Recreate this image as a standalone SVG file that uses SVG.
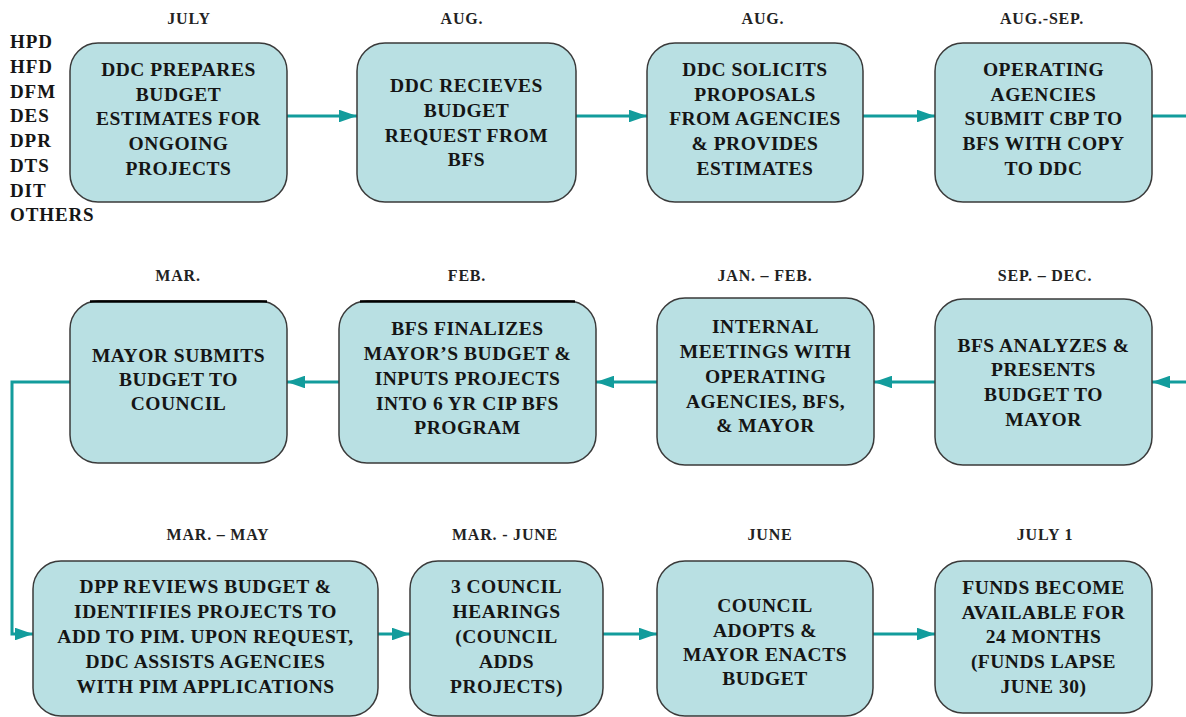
<svg xmlns="http://www.w3.org/2000/svg" width="1186" height="717" viewBox="0 0 1186 717">
  <style>
    .box { fill: #b9e0e3; stroke: #3a3a3a; stroke-width: 1.5; }
    .edge { stroke: #000; stroke-width: 2.5; }
    .t { font-family: "Liberation Serif", "Times New Roman", serif; font-weight: bold; font-size: 19.5px; fill: #151515; text-anchor: middle; letter-spacing: 0.5px; }
    .d { font-family: "Liberation Serif", "Times New Roman", serif; font-weight: bold; font-size: 16px; fill: #222; text-anchor: middle; letter-spacing: 0.8px; }
    .org { font-family: "Liberation Serif", "Times New Roman", serif; font-weight: bold; font-size: 19px; fill: #151515; letter-spacing: 0.9px; }
    .c { fill: none; stroke: #129c9c; stroke-width: 3; }
  </style>
  <defs>
    <marker id="ah" markerWidth="6" markerHeight="4.2" refX="6" refY="2.1" orient="auto" markerUnits="strokeWidth">
      <path d="M0,0 L6,2.1 L0,4.2 z" fill="#129c9c"/>
    </marker>
  </defs>
  <rect width="1186" height="717" fill="#fff"/>

  <!-- participating agencies -->
  <g id="agencies" class="org">
    <text x="10" y="48">HPD</text>
    <text x="10" y="73">HFD</text>
    <text x="10" y="98">DFM</text>
    <text x="10" y="122">DES</text>
    <text x="10" y="147">DPR</text>
    <text x="10" y="172">DTS</text>
    <text x="10" y="197">DIT</text>
    <text x="10" y="221">OTHERS</text>
  </g>

  <!-- connectors -->
  <g id="connectors">
    <line class="c" x1="287" y1="116" x2="357" y2="116" marker-end="url(#ah)"/>
    <line class="c" x1="576" y1="116" x2="647" y2="116" marker-end="url(#ah)"/>
    <line class="c" x1="863" y1="116" x2="935" y2="116" marker-end="url(#ah)"/>
    <line class="c" x1="1152" y1="116" x2="1186" y2="116"/>
    <line class="c" x1="1186" y1="382" x2="1152" y2="382" marker-end="url(#ah)"/>
    <line class="c" x1="935" y1="382" x2="874" y2="382" marker-end="url(#ah)"/>
    <line class="c" x1="657" y1="382" x2="596" y2="382" marker-end="url(#ah)"/>
    <line class="c" x1="339" y1="382" x2="287" y2="382" marker-end="url(#ah)"/>
    <polyline class="c" points="70,382 12,382 12,634 33,634" marker-end="url(#ah)"/>
    <line class="c" x1="378" y1="634" x2="410" y2="634" marker-end="url(#ah)"/>
    <line class="c" x1="603" y1="634" x2="657" y2="634" marker-end="url(#ah)"/>
    <line class="c" x1="873" y1="634" x2="935" y2="634" marker-end="url(#ah)"/>
  </g>

  <!-- row 1 -->
  <g id="n-ddc-prepares">
    <text class="d" x="189" y="24">JULY</text>
    <rect class="box" x="70" y="43" width="217" height="159" rx="28"/>
    <text class="t" x="178.5" y="76">DDC PREPARES</text>
    <text class="t" x="178.5" y="101">BUDGET</text>
    <text class="t" x="178.5" y="125">ESTIMATES FOR</text>
    <text class="t" x="178.5" y="150">ONGOING</text>
    <text class="t" x="178.5" y="175">PROJECTS</text>
  </g>
  <g id="n-ddc-receives">
    <text class="d" x="462" y="24">AUG.</text>
    <rect class="box" x="357" y="43" width="219" height="159" rx="28"/>
    <text class="t" x="466.5" y="92">DDC RECIEVES</text>
    <text class="t" x="466.5" y="117">BUDGET</text>
    <text class="t" x="466.5" y="142">REQUEST FROM</text>
    <text class="t" x="466.5" y="166">BFS</text>
  </g>
  <g id="n-ddc-solicits">
    <text class="d" x="763" y="24">AUG.</text>
    <rect class="box" x="647" y="43" width="216" height="159" rx="28"/>
    <text class="t" x="755" y="76">DDC SOLICITS</text>
    <text class="t" x="755" y="101">PROPOSALS</text>
    <text class="t" x="755" y="125">FROM AGENCIES</text>
    <text class="t" x="755" y="150">&amp; PROVIDES</text>
    <text class="t" x="755" y="175">ESTIMATES</text>
  </g>
  <g id="n-agencies-submit">
    <text class="d" x="1042" y="24">AUG.-SEP.</text>
    <rect class="box" x="935" y="43" width="217" height="159" rx="28"/>
    <text class="t" x="1043.5" y="76">OPERATING</text>
    <text class="t" x="1043.5" y="101">AGENCIES</text>
    <text class="t" x="1043.5" y="125">SUBMIT CBP TO</text>
    <text class="t" x="1043.5" y="150">BFS WITH COPY</text>
    <text class="t" x="1043.5" y="175">TO DDC</text>
  </g>

  <!-- row 2 -->
  <g id="n-mayor-submits">
    <text class="d" x="178" y="281">MAR.</text>
    <rect class="box" x="70" y="301" width="217" height="162" rx="28"/>
    <line class="edge" x1="90" y1="301.5" x2="267" y2="301.5"/>
    <text class="t" x="178.5" y="362">MAYOR SUBMITS</text>
    <text class="t" x="178.5" y="386">BUDGET TO</text>
    <text class="t" x="178.5" y="410">COUNCIL</text>
  </g>
  <g id="n-bfs-finalizes">
    <text class="d" x="467" y="281">FEB.</text>
    <rect class="box" x="339" y="301" width="257" height="162" rx="28"/>
    <line class="edge" x1="360" y1="301.5" x2="575" y2="301.5"/>
    <text class="t" x="467.5" y="335">BFS FINALIZES</text>
    <text class="t" x="467.5" y="360">MAYOR’S BUDGET &amp;</text>
    <text class="t" x="467.5" y="385">INPUTS PROJECTS</text>
    <text class="t" x="467.5" y="410">INTO 6 YR CIP BFS</text>
    <text class="t" x="467.5" y="434">PROGRAM</text>
  </g>
  <g id="n-internal-meetings">
    <text class="d" x="765" y="281">JAN. – FEB.</text>
    <rect class="box" x="657" y="298" width="217" height="167" rx="28"/>
    <text class="t" x="765.5" y="333">INTERNAL</text>
    <text class="t" x="765.5" y="358">MEETINGS WITH</text>
    <text class="t" x="765.5" y="383">OPERATING</text>
    <text class="t" x="765.5" y="408">AGENCIES, BFS,</text>
    <text class="t" x="765.5" y="432">&amp; MAYOR</text>
  </g>
  <g id="n-bfs-analyzes">
    <text class="d" x="1045" y="281">SEP. – DEC.</text>
    <rect class="box" x="935" y="299" width="217" height="166" rx="28"/>
    <text class="t" x="1043.5" y="352">BFS ANALYZES &amp;</text>
    <text class="t" x="1043.5" y="376">PRESENTS</text>
    <text class="t" x="1043.5" y="401">BUDGET TO</text>
    <text class="t" x="1043.5" y="426">MAYOR</text>
  </g>

  <!-- row 3 -->
  <g id="n-dpp-reviews">
    <text class="d" x="218" y="540">MAR. – MAY</text>
    <rect class="box" x="33" y="561" width="345" height="155" rx="28"/>
    <text class="t" x="205.5" y="593">DPP REVIEWS BUDGET &amp;</text>
    <text class="t" x="205.5" y="618">IDENTIFIES PROJECTS TO</text>
    <text class="t" x="205.5" y="643">ADD TO PIM. UPON REQUEST,</text>
    <text class="t" x="205.5" y="668">DDC ASSISTS AGENCIES</text>
    <text class="t" x="205.5" y="693">WITH PIM APPLICATIONS</text>
  </g>
  <g id="n-council-hearings">
    <text class="d" x="505" y="540">MAR. - JUNE</text>
    <rect class="box" x="410" y="561" width="193" height="155" rx="28"/>
    <text class="t" x="506.5" y="593">3 COUNCIL</text>
    <text class="t" x="506.5" y="618">HEARINGS</text>
    <text class="t" x="506.5" y="643">(COUNCIL</text>
    <text class="t" x="506.5" y="668">ADDS</text>
    <text class="t" x="506.5" y="693">PROJECTS)</text>
  </g>
  <g id="n-council-adopts">
    <text class="d" x="770" y="540">JUNE</text>
    <rect class="box" x="657" y="561" width="216" height="155" rx="28"/>
    <text class="t" x="765" y="612">COUNCIL</text>
    <text class="t" x="765" y="637">ADOPTS &amp;</text>
    <text class="t" x="765" y="661">MAYOR ENACTS</text>
    <text class="t" x="765" y="685">BUDGET</text>
  </g>
  <g id="n-funds-available">
    <text class="d" x="1045" y="540">JULY 1</text>
    <rect class="box" x="935" y="561" width="217" height="152" rx="28"/>
    <text class="t" x="1043.5" y="594">FUNDS BECOME</text>
    <text class="t" x="1043.5" y="619">AVAILABLE FOR</text>
    <text class="t" x="1043.5" y="643">24 MONTHS</text>
    <text class="t" x="1043.5" y="668">(FUNDS LAPSE</text>
    <text class="t" x="1043.5" y="693">JUNE 30)</text>
  </g>
</svg>
